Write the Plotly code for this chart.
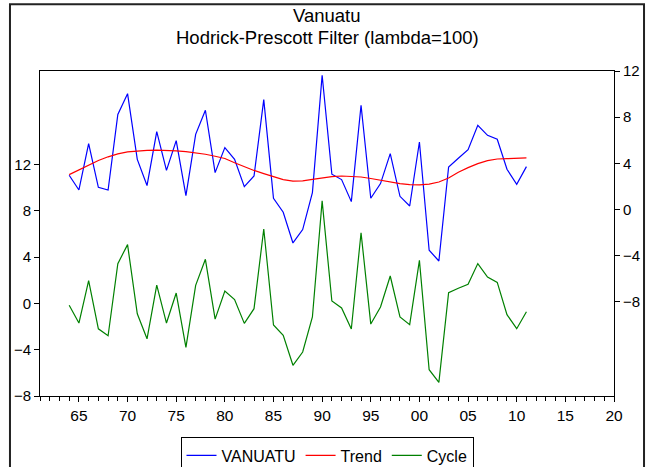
import plotly.graph_objects as go

years = list(range(1964, 2012))

vanuatu = [2.97, 1.70, 5.71, 1.93, 1.70, 8.23, 10.04, 4.35, 2.08, 6.75,
           3.40, 5.97, 1.21, 6.52, 8.60, 3.20, 5.37, 4.35, 1.99, 2.91,
           9.52, 0.98, -0.23, -2.89, -1.73, 1.47, 11.63, 3.06, 2.60, 0.69,
           9.03, 0.98, 2.25, 4.85, 1.15, 0.31, 5.85, -3.52, -4.45, 3.69,
           4.44, 5.19, 7.30, 6.43, 6.09, 3.49, 2.19, 3.72]

trend = [3.03, 3.45, 3.88, 4.25, 4.57, 4.82, 4.99, 5.09, 5.13, 5.15,
         5.13, 5.09, 5.02, 4.92, 4.79, 4.62, 4.42, 4.06, 3.69, 3.39,
         3.12, 2.84, 2.60, 2.47, 2.49, 2.62, 2.77, 2.86, 2.91, 2.89,
         2.82, 2.69, 2.54, 2.39, 2.25, 2.17, 2.14, 2.20, 2.39, 2.74,
         3.23, 3.63, 3.98, 4.24, 4.38, 4.41, 4.44, 4.47]

cycle = [-0.17, -1.70, 1.96, -2.20, -2.80, 3.43, 5.07, -0.90, -3.06, 1.58,
         -1.70, 0.89, -3.80, 1.55, 3.80, -1.36, 1.06, 0.32, -1.73, -0.46,
         6.42, -1.87, -2.76, -5.35, -4.20, -1.18, 8.85, 0.20, -0.40, -2.22,
         6.10, -1.79, -0.32, 2.36, -1.18, -1.84, 3.71, -5.73, -6.82, 0.92,
         1.30, 1.64, 3.43, 2.27, 1.81, -0.98, -2.19, -0.72]

x_tick_vals = [1965, 1970, 1975, 1980, 1985, 1990, 1995, 2000, 2005, 2010, 2015, 2020]
x_tick_text = ["65", "70", "75", "80", "85", "90", "95", "00", "05", "10", "15", "20"]
y_tick_vals = [-8, -4, 0, 4, 8, 12]

FONT = "Liberation Sans, Arial, sans-serif"

fig = go.Figure()
fig.add_trace(go.Scatter(x=years, y=vanuatu, name="VANUATU", mode="lines",
                         line=dict(color="#0000ff", width=1.2), yaxis="y2"))
fig.add_trace(go.Scatter(x=years, y=trend, name="Trend", mode="lines",
                         line=dict(color="#ff0000", width=1.2), yaxis="y2"))
fig.add_trace(go.Scatter(x=years, y=cycle, name="Cycle", mode="lines",
                         line=dict(color="#008000", width=1.2), yaxis="y"))

fig.update_layout(
    width=651, height=467,
    margin=dict(l=40, r=37, t=71, b=71, autoexpand=False),
    paper_bgcolor="white", plot_bgcolor="white",
    font=dict(family=FONT, size=15, color="black"),
    showlegend=True,
    legend=dict(orientation="h", x=0.5, xanchor="center", y=-0.183, yanchor="middle",
                bordercolor="black", borderwidth=1, font=dict(size=16)),
    xaxis=dict(range=[1961, 2020], tickvals=x_tick_vals, ticktext=x_tick_text,
               ticks="outside", ticklen=5, tickcolor="black", showgrid=False, zeroline=False,
               showline=True, linecolor="black", linewidth=1, mirror=True,
               minor=dict(dtick=1, ticks="outside", ticklen=4, tickcolor="black"),
               tickfont=dict(size=15.5), automargin=False),
    yaxis=dict(range=[-8, 20.06], tickvals=y_tick_vals, ticks="outside", ticklen=5,
               tickcolor="black", showgrid=False, zeroline=False, showline=True,
               linecolor="black", linewidth=1, tickfont=dict(size=15), automargin=False),
    yaxis2=dict(range=[-16.14, 12], tickvals=y_tick_vals, ticks="outside", ticklen=5,
                tickcolor="black", showgrid=False, zeroline=False, showline=True,
                linecolor="black", linewidth=1, overlaying="y", side="right",
                tickfont=dict(size=15), automargin=False),
    shapes=[dict(type="rect", xref="paper", yref="paper", x0=-0.0523, x1=1.0523,
                 y0=-0.3, y1=1.2052, line=dict(color="#222222", width=2), layer="below")],
    annotations=[
        dict(text="Vanuatu", xref="paper", yref="paper", x=0.5, y=1.1714,
             xanchor="center", yanchor="middle", showarrow=False, font=dict(size=18.5)),
        dict(text="Hodrick-Prescott Filter (lambda=100)", xref="paper", yref="paper",
             x=0.5, y=1.1037, xanchor="center", yanchor="middle", showarrow=False,
             font=dict(size=18.5)),
    ],
)

fig.write_html("out.html", config={"displayModeBar": False},
               post_script="document.body.style.margin='0px';document.body.style.overflow='hidden';")
